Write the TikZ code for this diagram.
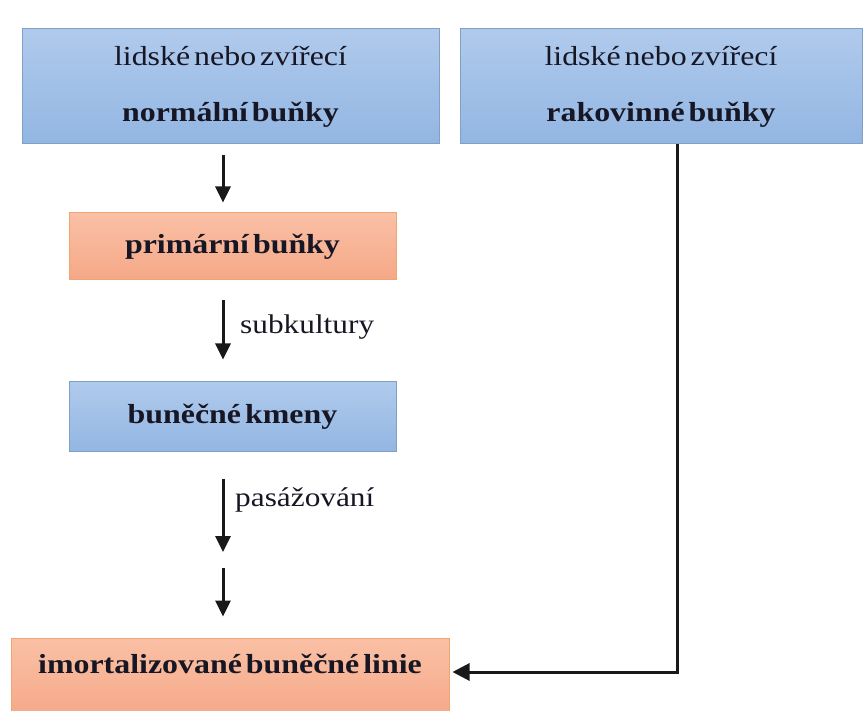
\documentclass[tikz,border=0pt]{standalone}
\usepackage{fontspec}
\setmainfont{Liberation Serif}[FakeStretch=1.16, WordSpace=0.5]
\usetikzlibrary{arrows.meta}

\definecolor{bluetop}{RGB}{176,202,236}
\definecolor{bluebot}{RGB}{146,182,226}
\definecolor{blueline}{RGB}{128,160,200}
\definecolor{orangetop}{RGB}{250,192,165}
\definecolor{orangebot}{RGB}{245,168,135}
\definecolor{orangeline}{RGB}{238,165,112}
\definecolor{ink}{RGB}{22,22,36}

\begin{document}
\begin{tikzpicture}[x = 1pt, y = -1pt,
  cellbox/.style = {line width = 1pt, inner sep = 0pt, align = center,
                    text = ink, font = \fontsize{27.5}{56}\selectfont},
  bluebox/.style = {cellbox, draw = blueline, top color = bluetop, bottom color = bluebot},
  orangebox/.style = {cellbox, draw = orangeline, top color = orangetop, bottom color = orangebot},
  flow/.style = {line width = 3pt, draw = black!90, -{Triangle[width = 15pt, length = 16pt]}},
  note/.style = {anchor = west, inner sep = 0pt, text = ink, font = \fontsize{27}{30}\selectfont}]

\useasboundingbox (0, 0) rectangle (863, 711);

% the boxes
\node[bluebox, minimum width = 417pt, minimum height = 115pt] (normal) at (230.5, 86.5)
  {lidské nebo zvířecí\\\textbf{normální buňky}};
\node[bluebox, minimum width = 402pt, minimum height = 115pt] (cancer) at (661, 86.5)
  {lidské nebo zvířecí\\\textbf{rakovinné buňky}};
\node[orangebox, minimum width = 327pt, minimum height = 67pt] (primary) at (232.5, 246.5)
  {\textbf{primární buňky}};
\node[bluebox, minimum width = 327pt, minimum height = 70pt] (strains) at (232.5, 417)
  {\textbf{buněčné kmeny}};
\node[orangebox, minimum width = 438pt, minimum height = 82pt,
      text height = 18pt, text depth = 30pt] (immortal) at (230, 679)
  {\textbf{imortalizované buněčné linie}};

% the labels
\node[note] (subcult) at (240, 327) {subkultury};
\node[note] (passage) at (235, 500) {pasážování};

% the arrows
\coordinate (ax) at (223, 0);
\coordinate (gap) at (223, 552);
\coordinate (bend) at (677, 672);
\draw[flow, shorten <= 11pt, shorten >= 10pt] (normal.south -| ax) -- (primary.north -| ax);
\draw[flow, shorten <= 20pt, shorten >= 22pt] (primary.south -| ax) -- (strains.north -| ax);
\draw[flow, shorten <= 27pt] (strains.south -| ax) -- (gap);
\draw[flow, shorten <= 16pt, shorten >= 21pt] (gap) -- (immortal.north -| ax);
\draw[flow, -{Triangle[width = 17pt, length = 17pt]}, shorten >= 3pt]
  (cancer.south -| bend) -- (bend) -- (bend -| immortal.east);

\end{tikzpicture}
\end{document}
